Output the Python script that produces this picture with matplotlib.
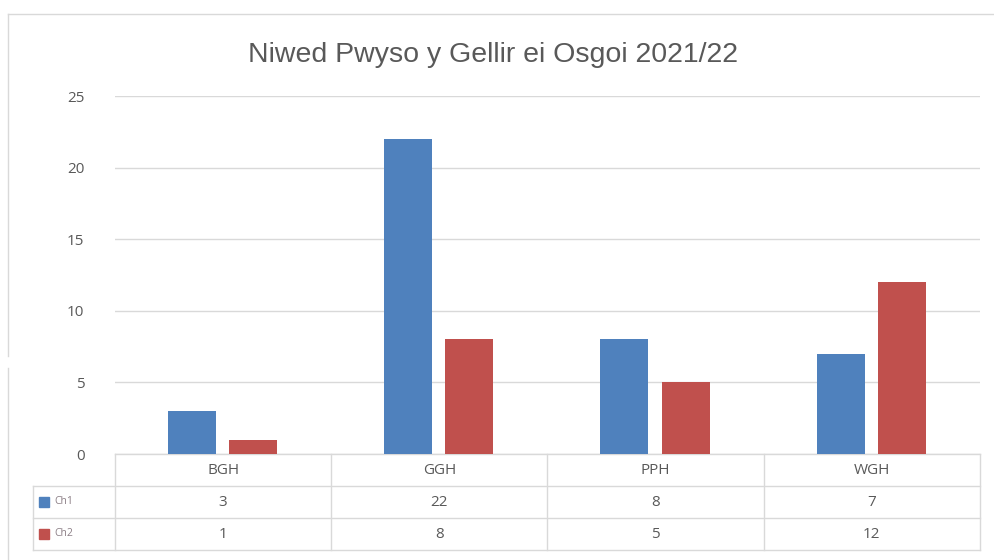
import matplotlib.pyplot as plt
import matplotlib.transforms as mtransforms
import numpy as np

# data
categories = ["BGH", "GGH", "PPH", "WGH"]
series_names = ["Ch1", "Ch2"]
ch1 = [3, 22, 8, 7]
ch2 = [1, 8, 5, 12]
title = "Niwed Pwyso y Gellir ei Osgoi 2021/22"

blue = "#4F81BD"
red = "#C0504D"
grey_txt = "#595959"
grid_col = "#D9D9D9"

W, H = 995, 560
fig = plt.figure(figsize=(W / 100, H / 100), dpi=100)
plt.rcParams["font.family"] = ["Open Sans", "DejaVu Sans"]

# outer frame of the chart object
fig.add_artist(plt.Line2D([8 / W, 1.0], [1 - 14 / H, 1 - 14 / H], color="#D9D9D9", lw=1))
fig.add_artist(plt.Line2D([8 / W, 8 / W], [1 - 14 / H, 1 - 356 / H], color="#D9D9D9", lw=1))
fig.add_artist(plt.Line2D([8 / W, 8 / W], [1 - 368 / H, 0.0], color="#D9D9D9", lw=1))

left, right, top, bottom = 115, 980, 96, 454
ax = fig.add_axes([left / W, 1 - bottom / H, (right - left) / W, (bottom - top) / H])

x = np.arange(len(categories))
width = 0.222
ax.bar(x - 0.144, ch1, width, color=blue, zorder=3)
ax.bar(x + 0.139, ch2, width, color=red, zorder=3)

ax.set_xlim(-0.5, len(categories) - 0.5)
ax.set_ylim(0, 25)
ax.set_yticks(range(0, 26, 5))
ax.set_xticks([])
ax.tick_params(axis="y", length=0, pad=22, labelsize=11, labelcolor=grey_txt)
ax.grid(axis="y", color=grid_col, lw=1, zorder=0)
for s in ax.spines.values():
    s.set_visible(False)

fig.text(493 / W, 1 - 55 / H, title, ha="center", va="center", fontsize=20.5,
         color=grey_txt, family=["Liberation Sans", "DejaVu Sans"])

# data table under the axis
row_h = 32 / (bottom - top)  # in axes fraction
trans = mtransforms.blended_transform_factory(ax.transData, ax.transAxes)
line_kw = dict(color=grid_col, lw=1, transform=trans, clip_on=False)
leg_left = -0.5 - (left - 33) / ((right - left) / len(categories))
n_rows = 3
# horizontal lines
ax.plot([-0.5, 3.5], [0, 0], **line_kw)
for r in range(1, n_rows + 1):
    ax.plot([leg_left, 3.5], [-r * row_h, -r * row_h], **line_kw)
# vertical lines
for b in np.arange(-0.5, len(categories)):
    ax.plot([b, b], [0, -n_rows * row_h], **line_kw)
ax.plot([leg_left, leg_left], [-row_h, -n_rows * row_h], **line_kw)

for i, c in enumerate(categories):
    ax.text(i, -0.5 * row_h, c, transform=trans, ha="center", va="center",
            fontsize=11, color=grey_txt)
    ax.text(i, -1.5 * row_h, str(ch1[i]), transform=trans, ha="center", va="center",
            fontsize=11, color=grey_txt)
    ax.text(i, -2.5 * row_h, str(ch2[i]), transform=trans, ha="center", va="center",
            fontsize=11, color=grey_txt)

for k, (name, col) in enumerate(zip(series_names, [blue, red])):
    yy = -(1.5 + k) * row_h
    ax.plot([leg_left + 0.05], [yy], marker="s", ms=7, color=col, transform=trans, clip_on=False)
    ax.text(leg_left + 0.1, yy, name, transform=trans, ha="left", va="center",
            fontsize=7.5, color="#8C7F86")

plt.savefig("out.png", dpi=100)
